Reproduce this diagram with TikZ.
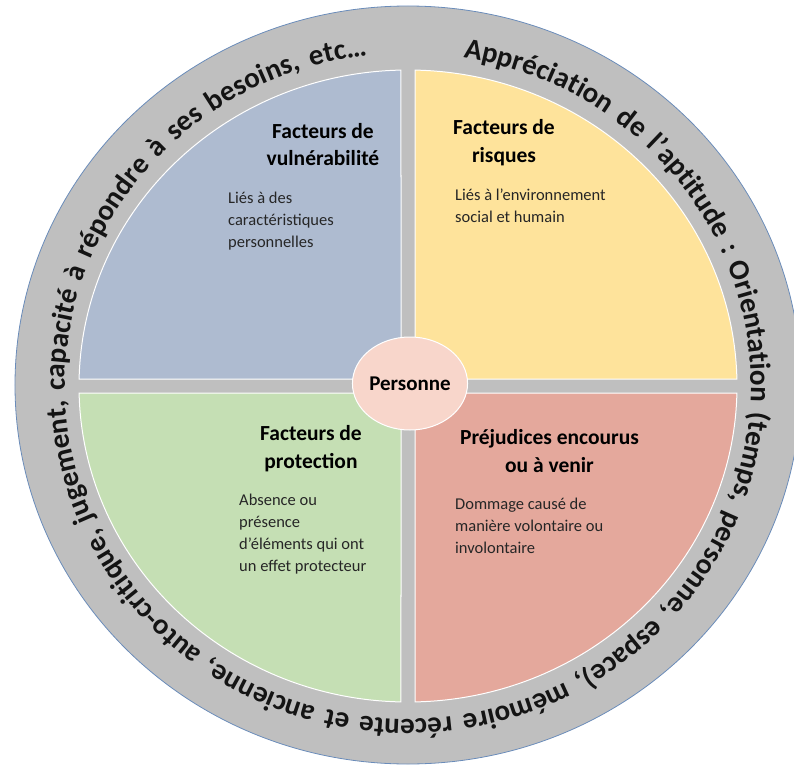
\documentclass[tikz,border=0pt]{standalone}
\usepackage{fontspec}
\setmainfont{Carlito}
\usepackage{tikz}
\usetikzlibrary{ decorations.text, shapes.geometric, positioning }
\definecolor{ringgray}{HTML}{BFBFBF}
\definecolor{ringedge}{HTML}{6A8CBA}
\definecolor{vulnblue}{HTML}{AEBBD0}
\definecolor{riskyellow}{HTML}{FEE39B}
\definecolor{protgreen}{HTML}{C5DFB4}
\definecolor{harmred}{HTML}{E4A89C}
\definecolor{personpink}{HTML}{F8D6CB}
\newcommand{\ringfont}{\fontsize{29}{30}\selectfont\bfseries}
\tikzset{
quadrant/.style={draw=white, line width=1pt}, % white rim round each quarter
title/.style={font=\fontsize{21.5}{28}\selectfont\bfseries, align=center, anchor=base, inner sep=0pt},
body/.style={font=\fontsize{16.5}{22}\selectfont, align=left, anchor=base west, inner sep=0pt, text=black!85},
personne/.style={ellipse, fill=personpink, draw=white, line width=1pt, minimum width=110pt, minimum height=93pt, inner sep=0pt, font=\fontsize{21}{24}\selectfont\bfseries},
}

\begin{document}
\begin{tikzpicture}[x=1pt, y=1pt]
  \useasboundingbox (-408,-380) rectangle (386,386);
  \clip (-408,-380) rectangle (386,386);
  % grey ring
  \filldraw[fill=ringgray, draw=ringedge, line width=0.8pt] (0,1) ellipse [x radius=393, y radius=379];
  % the four quarters
  \foreach \cx/\cy/\astart/\aend/\col in {-7/7/178.73/91.22/vulnblue, 7/7/88.78/1.27/riskyellow, -7/-7/181.27/268.78/protgreen, 7/-7/271.22/358.73/harmred}
    \filldraw[quadrant, fill=\col] (\cx,\cy) -- (\astart:329 and 316) arc[start angle=\astart, end angle=\aend, x radius=329, y radius=316] -- cycle;

  \node[personne] (person) at (2,2.5) {Personne};

  % base anchor = baseline of the last line
  \node[title] (vulntitle) at (-85,220) {Facteurs de\\vulnérabilité};
  \node[body] (vulnbody) at (-180,139) {Liés à des\\caractéristiques\\personnelles};
  \node[title] (risktitle) at (96,223) {Facteurs de\\risques};
  \node[body] (riskbody) at (47,164) {Liés à l’environnement\\social et humain};
  \node[title] (prottitle) at (-97,-82) {Facteurs de\\protection};
  \node[body] (protbody) at (-169,-185) {Absence ou\\présence\\d’éléments qui ont\\un effet protecteur};
  \node[title] (harmtitle) at (141.5,-86) {Préjudices encourus\\ou à venir};
  \node[body] (harmbody) at (47,-167) {Dommage causé de\\manière volontaire ou\\involontaire};

  % text round the ring, clockwise
  \path[decorate, decoration={text along path, text align={fit to path stretching spaces}, text color=black!92,
    text={|\ringfont|Appréciation de l’aptitude : Orientation (temps, personne, espace), mémoire récente et ancienne, auto-critique, jugement, capacité à répondre à ses besoins, etc…}}]
    (80.7:343 and 333) arc[start angle=80.7, end angle=-263.2, x radius=343, y radius=333];
\end{tikzpicture}
\end{document}
